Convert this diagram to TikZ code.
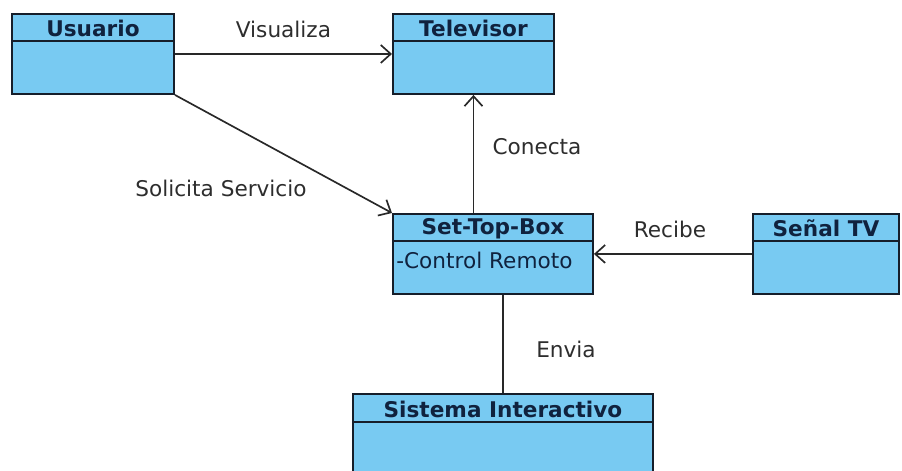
\documentclass[tikz,border=0pt]{standalone}
\usepackage{fontspec}
\setmainfont{DejaVu Sans}
\usetikzlibrary{arrows.meta}
\definecolor{cajafondo}{RGB}{120,202,242}
\definecolor{cajaborde}{RGB}{22,30,42}
\definecolor{cajatexto}{RGB}{16,34,62}
\definecolor{linea}{RGB}{40,40,40}
\definecolor{etiquetatexto}{RGB}{45,45,45}
\tikzset{
  clase/.style={draw=cajaborde, fill=cajafondo, line width=1.1pt, anchor=north west, inner sep=0pt},
  separa/.style={draw=cajaborde, line width=1.1pt},
  titulo/.style={font=\fontsize{12.3}{14}\selectfont\bfseries, text=cajatexto},
  atributo/.style={font=\fontsize{12.3}{14}\selectfont, text=cajatexto, anchor=west, inner sep=0pt},
  etiqueta/.style={font=\fontsize{12.3}{14}\selectfont, text=etiquetatexto},
  relacion/.style={draw=linea, line width=0.95pt},
  flecha/.style={relacion, -{Straight Barb[length=0.2cm,width=0.36cm]}}
}
\begin{document}
\begin{tikzpicture}
\useasboundingbox (0,0) rectangle (18.04,9.4);
\clip (0,0) rectangle (18.04,9.4);
% clases
\node[clase, minimum width=3.24cm, minimum height=1.6cm] (usuario) at (0.22,9.14) {};
\node[clase, minimum width=3.22cm, minimum height=1.6cm] (televisor) at (7.84,9.14) {};
\node[clase, minimum width=4.0cm, minimum height=1.6cm] (stb) at (7.84,5.14) {};
\node[clase, minimum width=2.92cm, minimum height=1.6cm] (senal) at (15.04,5.14) {};
\node[clase, minimum width=6.0cm, minimum height=1.9cm] (sistema) at (7.04,1.54) {};
\foreach \c in {usuario,televisor,stb,senal}
  \draw[separa] ([yshift=-0.56cm]\c.north west) -- ([yshift=-0.56cm]\c.north east);
\draw[separa] ([yshift=-0.58cm]sistema.north west) -- ([yshift=-0.58cm]sistema.north east);
% nombres
\node[titulo] (usuario-t) at ([yshift=-0.31cm]usuario.north) {Usuario};
\node[titulo] (televisor-t) at ([yshift=-0.31cm]televisor.north) {Televisor};
\node[titulo] (stb-t) at ([yshift=-0.31cm]stb.north) {Set-Top-Box};
\node[titulo] (senal-t) at ([yshift=-0.31cm]senal.north) {Señal TV};
\node[titulo] (sistema-t) at ([yshift=-0.32cm]sistema.north) {Sistema Interactivo};
\node[atributo] (stb-a) at ([xshift=0.08cm,yshift=-0.95cm]stb.north west) {-Control Remoto};
% relaciones
\draw[flecha] (usuario.east) -- node[etiqueta, midway, yshift=0.5cm] (l-vis) {Visualiza} (televisor.west);
\draw[flecha] (usuario.south east) -- node[etiqueta, midway, xshift=-1.25cm, yshift=-0.68cm] (l-sol) {Solicita Servicio} (stb.north west);
\draw[flecha] (stb.north -| televisor.south) -- node[etiqueta, midway, xshift=1.27cm, yshift=0.14cm] (l-con) {Conecta} (televisor.south);
\draw[flecha] (senal.west) -- node[etiqueta, midway, xshift=-0.06cm, yshift=0.5cm] (l-rec) {Recibe} (stb.east);
\draw[relacion] (stb.south -| sistema.north) -- node[etiqueta, midway, xshift=1.26cm, yshift=-0.1cm] (l-env) {Envia} (sistema.north);
\end{tikzpicture}
\end{document}
